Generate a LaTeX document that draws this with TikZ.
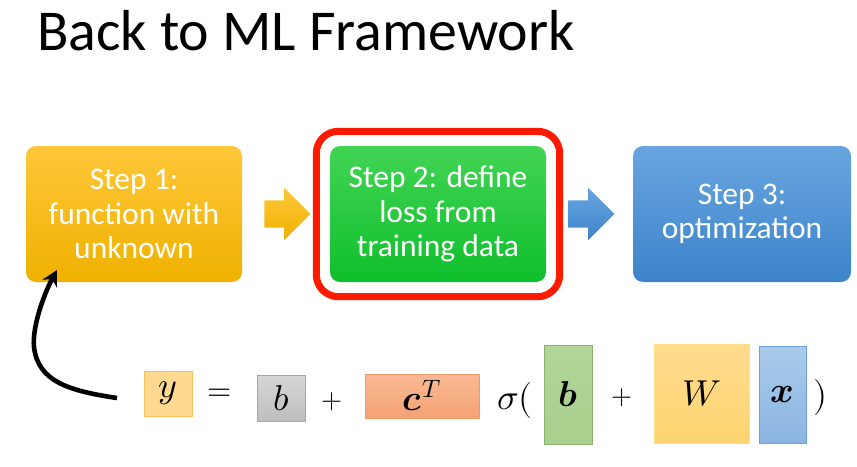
\documentclass[tikz,border=0pt]{standalone}
\usepackage{fontspec}
\usepackage{unicode-math}
\setmainfont{Carlito}
\setmathfont{Latin Modern Math}
\usetikzlibrary{shapes.arrows,arrows.meta,fit}
\definecolor{oTop}{HTML}{FFC73A}
\definecolor{oBot}{HTML}{EFB100}
\definecolor{gTop}{HTML}{42D454}
\definecolor{gBot}{HTML}{0FBF2C}
\definecolor{bTop}{HTML}{68A5DF}
\definecolor{bBot}{HTML}{3D84CB}
\definecolor{frameRed}{HTML}{FF1A00}
\definecolor{yFill}{HTML}{FFD98F}
\definecolor{yDraw}{HTML}{F7C35A}
\definecolor{grTop}{HTML}{D6D6D6}
\definecolor{grBot}{HTML}{BEBEBE}
\definecolor{grDraw}{HTML}{A6A6A6}
\definecolor{cTop}{HTML}{F9BA96}
\definecolor{cBot}{HTML}{F4A273}
\definecolor{cDraw}{HTML}{EE9A68}
\definecolor{gbFill}{HTML}{A8CF8D}
\definecolor{gbTop}{HTML}{B2D59A}
\definecolor{gbDraw}{HTML}{86B46A}
\definecolor{wTop}{HTML}{FFDB8E}
\definecolor{wBot}{HTML}{FFD470}
\definecolor{wDraw}{HTML}{FFE08A}
\definecolor{xTop}{HTML}{A9CBEB}
\definecolor{xBot}{HTML}{8BB5E2}
\definecolor{xDraw}{HTML}{6FA2D8}
\tikzset{
  stepbox/.style={rectangle, rounded corners=10pt, minimum width=216pt, minimum height=136pt,
    text=white, align=center, font=\fontsize{31.5}{34.5}\selectfont, inner sep=0pt},
  blockarrow/.style={single arrow, minimum height=46pt, single arrow head extend=12.5pt,
    single arrow head indent=0pt, inner sep=13.5pt, anchor=tail},
  eqbox/.style={rectangle, line width=0.8pt, inner sep=0pt, font=\fontsize{36}{40}\selectfont},
  eqtxt/.style={inner sep=0pt, font=\fontsize{36}{40}\selectfont},
  eqop/.style={inner sep=0pt, font=\fontsize{27}{30}\selectfont},
}
\begin{document}
\begin{tikzpicture}[x=1pt,y=-1pt]
\useasboundingbox (0,0) rectangle (857,466);
\fill[white] (0,0) rectangle (857,466);
% title
\node[anchor=base west, inner sep=0pt, font=\fontsize{57.8}{60}\selectfont] (title) at (37,50) {Back to ML Framework};
% step boxes
\node[stepbox, top color=oTop, bottom color=oBot] (s1) at (134,214) {Step 1:\\function with\\unknown};
\node[stepbox, top color=gTop, bottom color=gBot] (s2) at (438,214) {Step 2: define\\loss from\\training data};
\node[stepbox, minimum width=218pt, top color=bTop, bottom color=bBot] (s3) at (742,214) {Step 3:\\optimization};
% red frame
\node[fit=(s2), draw=frameRed, line width=7pt, rounded corners=22pt, inner xsep=13.5pt, inner ysep=14.5pt] (frame) {};
% block arrows
\node[blockarrow, top color=oTop, bottom color=oBot] (a1) at ([xshift=22pt]s1.east) {};
\node[blockarrow, top color=bTop, bottom color=bBot] (a2) at ([xshift=22pt]s2.east) {};
% equation
\node[eqbox, fill=yFill, draw=yDraw, minimum width=48pt, minimum height=45pt] (ey) at (168,393.5) {$y$};
\node[eqop, font=\fontsize{31}{34}\selectfont] (eeq) at (220,395) {$=$};
\node[eqbox, top color=grTop, bottom color=grBot, draw=grDraw, minimum width=48pt, minimum height=46pt] (eb) at (281,398) {$b$};
\node[eqop] (ep1) at (332,402) {$+$};
\node[eqbox, top color=cTop, bottom color=cBot, draw=cDraw, minimum width=114pt, minimum height=44pt] (ec) at (422,396) {$\symbfit{c}^T$};
\node[eqtxt] (esig) at (515,400) {$\sigma($};
\node[eqbox, top color=gbTop, bottom color=gbFill, draw=gbDraw, minimum width=48pt, minimum height=99pt] (eb2) at (568,394.5) {$\symbfit{b}$};
\node[eqop] (ep2) at (622,398) {$+$};
\node[eqbox, top color=wTop, bottom color=wBot, draw=wDraw, minimum width=95pt, minimum height=99pt] (ew) at (701.5,393.5) {$W$};
\node[eqbox, top color=xTop, bottom color=xBot, draw=xDraw, minimum width=47pt, minimum height=97pt] (ex) at (782.5,394.5) {$\symbfit{x}$};
\node[eqtxt] (epar) at (820,397) {$)$};
% curved arrow
\coordinate (cstart) at (117,398);
\draw[line width=4.6pt, -{Stealth[length=15pt,width=16pt]}] (cstart) .. controls (70,391) and (38,382) .. (34,347) .. controls (32,327) and (44,294) .. ([xshift=31pt,yshift=12pt]s1.south west);
\end{tikzpicture}
\end{document}
